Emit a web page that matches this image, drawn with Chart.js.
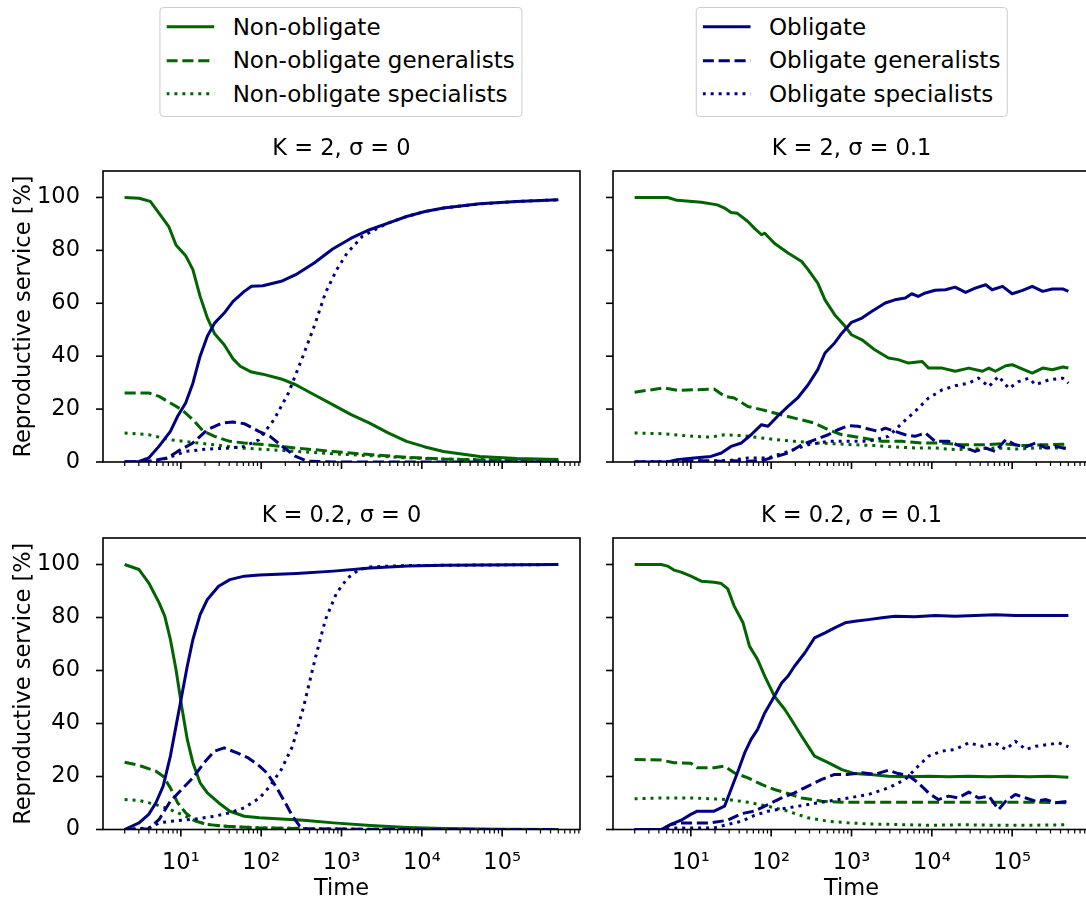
<!DOCTYPE html>
<html>
<head>
<meta charset="utf-8">
<script src="https://cdn.jsdelivr.net/npm/chart.js@4.4.1/dist/chart.umd.min.js"></script>
<style>
html,body{margin:0;padding:0;background:#fff;}
body{width:1086px;height:904px;overflow:hidden;position:relative;font-family:"DejaVu Sans";}
canvas{position:absolute;}
.legend{position:absolute;top:7px;transform:translateX(-50%);border:1px solid #cccccc;border-radius:4px;background:#fff;padding:2px 6.4px 5px 6.4px;font-size:23px;color:#000;white-space:nowrap;font-family:"DejaVu Sans";}
.row{display:flex;align-items:center;height:33.5px;}
.row svg{width:48px;height:33.5px;flex:none;margin-right:18.3px;display:block;}
</style>
</head>
<body>
<script>
// ---------------- DATA: [log10(time), reproductive service %] ----------------
// Panel K = 2, sigma = 0
const k2s0_nonObl = [[0.30,100],[0.48,99.7],[0.62,98.5],[0.73,94],[0.85,89],[0.94,82],[1.06,78],[1.15,72.7],[1.24,62.6],[1.33,54.5],[1.42,48.5],[1.54,44.3],[1.65,39],[1.74,36.2],[1.88,34],[2.02,33.2],[2.25,31.4],[2.43,29.2],[2.66,25.4],[2.89,21.7],[3.12,17.9],[3.35,14.7],[3.58,11],[3.81,7.8],[4.04,5.7],[4.27,4],[4.72,2.1],[5.18,1.3],[5.70,0.9]];
const k2s0_nonOblGen = [[0.30,26.1],[0.60,26.1],[0.73,24.8],[0.87,22.3],[1.01,19.8],[1.15,16],[1.28,11.6],[1.42,9.7],[1.61,7.8],[1.79,7.2],[2.06,6.5],[2.43,5.3],[2.89,4],[3.35,2.8],[3.81,1.8],[4.27,1.1],[4.72,0.8],[5.70,0.5]];
const k2s0_nonOblSpec = [[0.30,11],[0.60,10.3],[0.87,8.4],[1.15,7.4],[1.42,6.5],[1.74,5.3],[2.06,4.7],[2.43,4],[2.89,3.1],[3.35,2.4],[3.81,1.6],[4.27,1.1],[5.70,0.5]];
const k2s0_obl = [[0.30,0],[0.48,0.2],[0.60,1.5],[0.73,6],[0.87,11.6],[0.96,17.3],[1.06,22.3],[1.15,29.8],[1.24,40],[1.33,47.5],[1.42,52.5],[1.54,56.3],[1.65,60.7],[1.79,64.5],[1.88,66.4],[2.02,66.6],[2.25,68.3],[2.43,70.8],[2.66,75.2],[2.89,80.5],[3.12,84.6],[3.35,87.8],[3.58,90.3],[3.81,92.8],[4.04,94.7],[4.27,96],[4.72,97.6],[5.18,98.5],[5.70,99.1]];
const k2s0_oblGen = [[0.30,0],[0.60,0.3],[0.83,1.5],[0.96,4],[1.15,7.2],[1.33,12.2],[1.51,14.7],[1.65,15.1],[1.79,14.5],[1.97,11.6],[2.11,9.7],[2.29,5.3],[2.43,2.1],[2.57,0.3],[2.89,0],[5.70,0]];
const k2s0_oblSpec = [[0.30,0],[0.68,0],[0.83,1.5],[1.06,4],[1.33,4.9],[1.61,5.3],[1.79,5.9],[1.97,8.4],[2.16,16],[2.34,26.1],[2.52,40],[2.66,51.3],[2.80,63.9],[2.94,72.7],[3.07,79],[3.26,85.3],[3.49,89],[3.58,90.3],[3.81,92.8],[4.04,94.7],[4.27,96],[4.72,97.6],[5.18,98.5],[5.70,99.1]];

// Panel K = 2, sigma = 0.1
const k2s01_nonObl = [[0.30,100],[0.71,100],[0.83,98.9],[1.13,98.2],[1.33,97.2],[1.42,96],[1.50,94.3],[1.58,94],[1.71,90.9],[1.79,88.4],[1.88,85.9],[1.92,86.5],[2.04,82.7],[2.21,79],[2.38,75.8],[2.46,72.7],[2.58,67.6],[2.67,61.3],[2.79,55.7],[2.92,51.3],[3.00,48.1],[3.13,46.2],[3.29,42.4],[3.46,39.3],[3.58,38.7],[3.71,37.4],[3.88,38],[3.96,35.5],[4.13,35.5],[4.29,34.3],[4.46,35.5],[4.63,34.3],[4.71,35.5],[4.79,34.3],[4.92,36.4],[5.00,36.8],[5.13,35.1],[5.25,33.6],[5.38,35.5],[5.50,34.9],[5.63,35.9],[5.70,35.5]];
const k2s01_nonOblGen = [[0.30,26.4],[0.67,28],[0.83,27.1],[1.04,27.3],[1.29,27.6],[1.42,24.8],[1.54,24.2],[1.71,21],[1.88,19.8],[2.04,18.5],[2.29,16.6],[2.54,14.7],[2.71,12.2],[2.88,10.3],[3.13,9.1],[3.38,7.8],[3.63,7.8],[3.88,7.2],[4.13,7.2],[4.38,6.5],[4.63,6.5],[4.88,6.9],[5.13,6.2],[5.38,6.5],[5.70,6.8]];
const k2s01_nonOblSpec = [[0.30,11],[0.63,10.7],[1.04,9.7],[1.25,9.4],[1.42,10.3],[1.67,9.9],[1.88,9.1],[2.08,8.4],[2.29,7.8],[2.54,7.2],[2.79,6.9],[3.04,6.5],[3.29,6.2],[3.54,5.7],[3.79,5.3],[4.04,5.3],[4.29,4.7],[4.54,4.9],[4.79,5.3],[5.04,4.9],[5.29,5.3],[5.70,5.3]];
const k2s01_obl = [[0.30,0],[0.71,0],[0.83,0.9],[1.04,1.5],[1.25,2.1],[1.38,3.4],[1.50,5.9],[1.63,7.2],[1.75,10.3],[1.88,14.1],[1.96,13.5],[2.08,17.3],[2.21,21],[2.33,24.2],[2.46,29.2],[2.58,34.9],[2.67,41.2],[2.79,45],[2.88,48.7],[3.00,52.8],[3.13,54.4],[3.25,56.9],[3.42,60.1],[3.54,61.3],[3.67,62],[3.75,63.6],[3.83,62.6],[3.92,63.9],[4.04,64.9],[4.17,65.1],[4.29,66.1],[4.42,64.1],[4.54,65.7],[4.67,67],[4.75,65.1],[4.88,66.4],[5.00,63.6],[5.13,64.9],[5.25,66.4],[5.38,64.5],[5.50,65.4],[5.63,65.4],[5.70,64.5]];
const k2s01_oblGen = [[0.30,0],[0.83,0],[1.13,0.5],[1.38,0.3],[1.54,0.5],[1.71,0.3],[1.88,0.5],[2.04,1.9],[2.21,3.4],[2.38,6.5],[2.54,8.4],[2.71,10.3],[2.83,12.2],[2.96,13.7],[3.08,13.5],[3.21,12.5],[3.33,11.6],[3.42,12.8],[3.54,11.6],[3.67,10.3],[3.79,9.7],[3.92,11],[4.04,7.8],[4.21,7.8],[4.38,5.7],[4.54,4],[4.67,5.3],[4.79,4],[4.92,8.4],[5.04,6.5],[5.17,5.7],[5.29,7.2],[5.42,5.3],[5.54,5.9],[5.70,4.9]];
const k2s01_oblSpec = [[0.30,0],[1.04,0.3],[1.46,0.5],[1.71,1.5],[1.96,1.5],[2.21,4],[2.46,6.5],[2.71,7.8],[2.96,7.8],[3.21,7.8],[3.46,9.7],[3.63,14.7],[3.79,19.1],[3.96,24.2],[4.13,27.3],[4.29,28.8],[4.46,29.8],[4.58,31.7],[4.71,28.5],[4.83,32.4],[4.96,27.8],[5.08,30.4],[5.21,31.7],[5.29,29.2],[5.46,31.1],[5.63,31.7],[5.70,29.8]];

// Panel K = 0.2, sigma = 0
const k02s0_nonObl = [[0.30,100],[0.48,98.1],[0.60,93.1],[0.73,85.5],[0.80,80.5],[0.87,71.7],[0.94,60.4],[1.01,46.5],[1.08,34],[1.15,25.2],[1.24,17.6],[1.33,13.8],[1.47,10.1],[1.61,6.9],[1.79,5],[1.98,4.4],[2.25,4],[2.53,3.5],[2.90,2.5],[3.36,1.5],[3.82,0.8],[4.28,0.4],[4.97,0.1],[5.70,0]];
const k02s0_nonOblGen = [[0.30,25.4],[0.48,24.2],[0.69,22],[0.78,20.1],[0.87,15.7],[0.96,10.1],[1.06,6.3],[1.19,3.1],[1.33,1.9],[1.52,1.3],[1.98,0.6],[2.44,0.4],[3.36,0.1],[5.70,0]];
const k02s0_nonOblSpec = [[0.30,11.3],[0.48,11],[0.69,9.4],[0.87,7.5],[1.06,5],[1.19,3.1],[1.33,1.9],[1.52,1.3],[1.98,0.6],[3.36,0.1],[5.70,0]];
const k02s0_obl = [[0.30,0],[0.48,2.5],[0.60,5.7],[0.69,10.1],[0.78,16.4],[0.87,27.7],[0.94,39],[1.01,50.3],[1.08,61.6],[1.15,71.7],[1.24,81.1],[1.33,86.8],[1.47,91.8],[1.61,94.3],[1.79,95.6],[1.98,96],[2.44,96.6],[2.90,97.5],[3.36,98.7],[3.82,99.4],[4.28,99.7],[5.70,100]];
const k02s0_oblGen = [[0.30,0],[0.60,0.3],[0.73,3.8],[0.87,10.7],[1.01,15.1],[1.15,19.5],[1.29,25.2],[1.42,29.6],[1.54,30.8],[1.70,28.9],[1.84,27],[1.98,23.9],[2.07,21.4],[2.18,16.4],[2.30,10.1],[2.39,5],[2.48,1.3],[2.57,0],[5.70,0]];
const k02s0_oblSpec = [[0.30,0],[0.60,0.6],[0.73,2.5],[0.87,3.1],[1.01,3.5],[1.19,4],[1.42,5],[1.61,6.3],[1.79,8.2],[1.98,11.9],[2.11,16.4],[2.25,22.6],[2.39,31.4],[2.53,46.5],[2.67,64.2],[2.80,79.2],[2.94,89.3],[3.08,95],[3.22,98.1],[3.36,99.1],[3.82,99.6],[5.70,100]];

// Panel K = 0.2, sigma = 0.1
const k02s01_nonObl = [[0.30,100],[0.63,100],[0.71,99.4],[0.79,97.9],[0.88,97.1],[1.00,95.6],[1.13,93.7],[1.29,93.3],[1.38,92.8],[1.46,90.8],[1.54,84.3],[1.65,78],[1.73,69.2],[1.83,64.2],[1.92,57.9],[2.04,50.3],[2.17,45.3],[2.25,41.5],[2.38,35.2],[2.54,27.7],[2.71,25.2],[2.88,22.6],[3.04,21.1],[3.21,20.8],[3.46,20.1],[3.71,19.9],[3.96,20.1],[4.21,19.9],[4.46,20.1],[4.71,19.9],[4.96,20.1],[5.21,19.9],[5.46,20.1],[5.70,19.7]];
const k02s01_nonOblGen = [[0.30,26.4],[0.63,26.2],[0.79,25.2],[1.00,25],[1.08,23.3],[1.29,23.3],[1.42,23.9],[1.54,21.4],[1.71,19.5],[1.88,17],[2.04,15.1],[2.21,13.6],[2.38,11.9],[2.63,10.7],[2.88,10.3],[3.13,10.3],[3.54,10.3],[3.96,10.3],[4.38,10.3],[4.79,10.3],[5.21,10.3],[5.70,10.1]];
const k02s01_nonOblSpec = [[0.30,11.6],[0.63,11.9],[1.00,11.9],[1.25,11.6],[1.46,11.3],[1.71,10.3],[1.96,8.8],[2.21,6.9],[2.46,4.4],[2.71,3.1],[2.96,2.5],[3.21,2.1],[3.54,1.9],[3.96,1.6],[4.38,1.8],[4.79,1.6],[5.21,1.6],[5.70,1.8]];
const k02s01_obl = [[0.30,0],[0.63,0],[0.75,1.9],[0.88,3.5],[1.00,5.7],[1.08,6.9],[1.29,6.9],[1.42,8.8],[1.50,15.1],[1.58,21.4],[1.67,28.9],[1.75,34],[1.83,37.7],[1.92,44],[2.04,50.3],[2.13,55.3],[2.21,57.9],[2.29,61.6],[2.42,66.7],[2.54,72.3],[2.67,74.2],[2.79,76.1],[2.92,78],[3.04,78.6],[3.21,79.2],[3.38,79.9],[3.54,80.5],[3.79,80.3],[4.04,80.8],[4.29,80.5],[4.54,80.8],[4.79,81],[5.04,80.8],[5.29,80.8],[5.70,80.8]];
const k02s01_oblGen = [[0.30,0],[0.63,0],[0.75,1.9],[0.88,2.5],[1.04,2.5],[1.25,2.5],[1.46,3.5],[1.63,6],[1.79,6.9],[1.96,9.4],[2.13,11.9],[2.29,13.8],[2.46,16.4],[2.63,18.9],[2.79,20.8],[2.96,20.8],[3.13,21.4],[3.29,20.8],[3.46,22.4],[3.58,21.1],[3.71,20.4],[3.83,17.6],[3.96,13.8],[4.08,11.3],[4.21,12.6],[4.33,11.9],[4.46,14.1],[4.58,11.9],[4.71,12.6],[4.83,7.5],[4.92,10.7],[5.04,13.2],[5.17,11.9],[5.29,10.7],[5.42,11.3],[5.54,10.1],[5.70,10.7]];
const k02s01_oblSpec = [[0.30,0],[0.63,0],[0.83,0.6],[1.04,0.6],[1.29,0.6],[1.46,1.9],[1.63,3.1],[1.79,5.3],[1.96,6.9],[2.21,8.2],[2.46,9.4],[2.71,10.7],[2.96,11.9],[3.21,13.2],[3.46,15.7],[3.67,18.9],[3.83,23.9],[3.96,27.7],[4.13,29.6],[4.29,30.2],[4.46,32.7],[4.63,31.4],[4.79,32.7],[4.92,30.2],[5.04,33.3],[5.17,30.2],[5.29,31.4],[5.46,32.1],[5.58,32.7],[5.70,31.2]];

// Axis ticks
const yTickValues = [0, 20, 40, 60, 80, 100];
const TIME_FIRST = 2, TIME_LAST = 5e5;   // data range of time
const Y_MIN = 0, Y_MAX = 110;

const panelTitles = ['K = 2, σ = 0', 'K = 2, σ = 0.1', 'K = 0.2, σ = 0', 'K = 0.2, σ = 0.1'];
const seriesLabels = ['Non-obligate', 'Non-obligate generalists', 'Non-obligate specialists', 'Obligate', 'Obligate generalists', 'Obligate specialists'];

// ---------------- STYLES / LAYOUT ----------------
const GREEN = '#006400', NAVY = '#000080';
const DASHES = {solid: [], dashed: [11.1, 4.8], dotted: [3, 4.95]};
const seriesStyles = [
  {color: GREEN, dash: 'solid'}, {color: GREEN, dash: 'dashed'}, {color: GREEN, dash: 'dotted'},
  {color: NAVY, dash: 'solid'}, {color: NAVY, dash: 'dashed'}, {color: NAVY, dash: 'dotted'}
];
const FONT = 'DejaVu Sans';
const panelData = [
  [k2s0_nonObl, k2s0_nonOblGen, k2s0_nonOblSpec, k2s0_obl, k2s0_oblGen, k2s0_oblSpec],
  [k2s01_nonObl, k2s01_nonOblGen, k2s01_nonOblSpec, k2s01_obl, k2s01_oblGen, k2s01_oblSpec],
  [k02s0_nonObl, k02s0_nonOblGen, k02s0_nonOblSpec, k02s0_obl, k02s0_oblGen, k02s0_oblSpec],
  [k02s01_nonObl, k02s01_nonOblGen, k02s01_nonOblSpec, k02s01_obl, k02s01_oblGen, k02s01_oblSpec]
];
const panelLayout = [
  {l: 103, t: 171, w: 477, h: 291,   yw: 103, xh: 14,   yLab: true,  xLab: false},
  {l: 613, t: 171, w: 477, h: 291,   yw: 12,  xh: 14,   yLab: false, xLab: false},
  {l: 103, t: 538, w: 477, h: 291.5, yw: 103, xh: 74.5, yLab: true,  xLab: true},
  {l: 613, t: 538, w: 477, h: 291.5, yw: 12,  xh: 74.5, yLab: false, xLab: true}
];
const TITLE_BAND = 40, RIGHT_PAD = 4;

// matplotlib-like 5% margins in log space
const lo = Math.log10(TIME_FIRST), hi = Math.log10(TIME_LAST), span = hi - lo;
const X_MIN = Math.pow(10, lo - 0.05 * span), X_MAX = Math.pow(10, hi + 0.05 * span);

const SUP = {1: '¹', 2: '²', 3: '³', 4: '⁴', 5: '⁵'};
function isPow10(v) { const e = Math.log10(v); return Math.abs(e - Math.round(e)) < 1e-9; }

const axesDecor = {
  id: 'axesDecor',
  afterDatasetsDraw(chart) {
    const {ctx, chartArea: a, scales: {x, y}} = chart;
    ctx.save();
    ctx.strokeStyle = '#000';
    ctx.lineCap = 'butt';
    x.ticks.forEach(t => {
      const px = x.getPixelForValue(t.value);
      const major = isPow10(t.value);
      ctx.lineWidth = major ? 1.6 : 1.2;
      ctx.beginPath(); ctx.moveTo(px, a.bottom); ctx.lineTo(px, a.bottom + (major ? 7 : 4)); ctx.stroke();
    });
    ctx.lineWidth = 1.6;
    y.ticks.forEach(t => {
      const py = y.getPixelForValue(t.value);
      ctx.beginPath(); ctx.moveTo(a.left, py); ctx.lineTo(a.left - 7, py); ctx.stroke();
    });
    ctx.strokeRect(a.left, a.top, a.right - a.left, a.bottom - a.top);
    ctx.restore();
  }
};

function buildXTicks(scale) {
  const ticks = [];
  for (let e = 0; e <= 6; e++) {
    for (let m = 1; m <= 9; m++) {
      const v = m * Math.pow(10, e);
      if (v >= X_MIN && v <= X_MAX) ticks.push({value: v});
    }
  }
  scale.ticks = ticks;
}
function noPad(s) { s.paddingTop = 0; s.paddingBottom = 0; s.paddingLeft = 0; s.paddingRight = 0; }

panelLayout.forEach((L, i) => {
  const cv = document.createElement('canvas');
  const W = L.yw + L.w + RIGHT_PAD;
  const H = TITLE_BAND + L.h + L.xh;
  cv.width = W; cv.height = H;
  cv.style.left = (L.l - L.yw) + 'px';
  cv.style.top = (L.t - TITLE_BAND) + 'px';
  cv.style.width = W + 'px'; cv.style.height = H + 'px';
  document.body.appendChild(cv);

  const datasets = panelData[i].map((arr, s) => ({
    label: seriesLabels[s],
    data: arr.map(([lt, v]) => ({x: Math.pow(10, lt), y: v})),
    borderColor: seriesStyles[s].color,
    backgroundColor: seriesStyles[s].color,
    borderWidth: 3,
    borderDash: DASHES[seriesStyles[s].dash],
    borderCapStyle: 'butt',
    borderJoinStyle: 'round',
    pointRadius: 0,
    tension: 0,
    fill: false,
    clip: 0,
    order: 5 - s
  }));

  new Chart(cv, {
    type: 'line',
    data: {datasets},
    plugins: [axesDecor],
    options: {
      responsive: false,
      animation: false,
      events: [],
      devicePixelRatio: 1,
      layout: {padding: {top: 0, right: RIGHT_PAD, left: 0, bottom: 0}, autoPadding: false},
      plugins: {
        legend: {display: false},
        tooltip: {enabled: false},
        title: {
          display: true, text: panelTitles[i], fullSize: false, color: '#000',
          font: {family: FONT, size: 22.5, weight: 'normal', lineHeight: 1.2},
          padding: {top: 4.5, bottom: TITLE_BAND - 4.5 - 27}
        }
      },
      scales: {
        x: {
          type: 'logarithmic', min: X_MIN, max: X_MAX, bounds: 'data',
          grid: {display: false},
          border: {display: false},
          afterBuildTicks: buildXTicks,
          afterFit: s => { s.height = L.xh; noPad(s); },
          ticks: {
            autoSkip: false, maxRotation: 0, minRotation: 0, padding: 12.5, color: '#000',
            font: {family: FONT, size: 22.5, lineHeight: 1.2},
            callback: (v) => (L.xLab && isPow10(v) && SUP[Math.round(Math.log10(v))]) ? '10' + SUP[Math.round(Math.log10(v))] : ''
          },
          title: {display: L.xLab, text: 'Time', color: '#000', font: {family: FONT, size: 22.5, lineHeight: 1.2}, padding: {top: 0, bottom: 1.1}}
        },
        y: {
          type: 'linear', min: Y_MIN, max: Y_MAX,
          grid: {display: false},
          border: {display: false},
          afterBuildTicks: s => { s.ticks = yTickValues.map(v => ({value: v})); },
          afterFit: s => { s.width = L.yw; noPad(s); },
          ticks: {
            padding: 15, color: '#000',
            font: {family: FONT, size: 22.5, lineHeight: 1.2},
            callback: v => L.yLab ? String(v) : ''
          },
          title: {display: L.yLab, text: 'Reproductive service [%]', color: '#000', font: {family: FONT, size: 22.5, lineHeight: 1.2}, padding: {top: 11, bottom: 0}}
        }
      }
    }
  });
});

// ---------------- LEGENDS ----------------
function makeLegend(centerX, idxs) {
  const box = document.createElement('div');
  box.className = 'legend';
  box.style.left = centerX + 'px';
  idxs.forEach(s => {
    const row = document.createElement('div');
    row.className = 'row';
    const st = seriesStyles[s];
    const dash = DASHES[st.dash].join(' ');
    row.innerHTML = '<svg viewBox="0 0 48 33.5"><line x1="0" y1="16.75" x2="48" y2="16.75" stroke="' + st.color +
      '" stroke-width="3" stroke-linecap="butt"' + (dash ? ' stroke-dasharray="' + dash + '"' : '') + '/></svg>';
    const span = document.createElement('span');
    span.textContent = seriesLabels[s];
    row.appendChild(span);
    box.appendChild(row);
  });
  document.body.appendChild(box);
}
makeLegend(340.5, [0, 1, 2]);
makeLegend(851.5, [3, 4, 5]);
</script>
</body>
</html>
